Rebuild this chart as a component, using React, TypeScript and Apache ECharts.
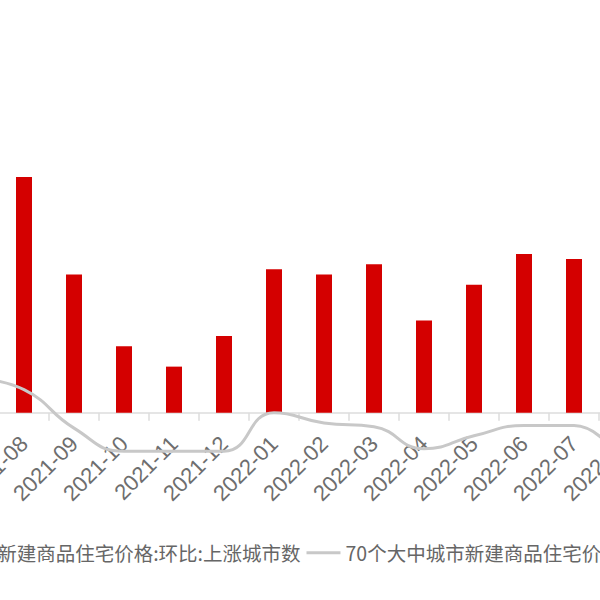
import React, { useEffect, useRef } from "react";
import * as echarts from "echarts";

const categories = [
  "2021-07", "2021-08", "2021-09", "2021-10", "2021-11", "2021-12",
  "2022-01", "2022-02", "2022-03", "2022-04", "2022-05", "2022-06",
  "2022-07", "2022-08",
];
// 上涨城市数 (bars, left axis)
const risingCities = [null, 46, 27, 13, 9, 15, 28, 27, 29, 18, 25, 31, 30, null];
// 价格环比 (line, right axis)
const priceMoM = [0.27, 0.18, -0.12, -0.3, -0.3, -0.3, 0.0, -0.08, -0.11, -0.28, -0.18, -0.1, -0.1, -0.42];

const barName = "70个大中城市新建商品住宅价格:环比:上涨城市数";
const lineName = "70个大中城市新建商品住宅价格指数:环比";

export default function App() {
  const ref = useRef<HTMLDivElement>(null);
  useEffect(() => {
    if (!ref.current) return;
    const chart = echarts.init(ref.current, null, { renderer: "svg" });
    chart.setOption({
      animation: false,
      legend: {
        left: 34,
        top: 538,
        width: 1300,
        itemWidth: 34,
        itemHeight: 3,
        itemGap: 6,
        icon: "rect",
        textStyle: { fontSize: 19.5, color: "#666", fontFamily: "Noto Sans CJK SC" },
        data: [barName, lineName],
      },
      grid: { left: 149, right: 551, top: 54, bottom: 136 },
      xAxis: {
        type: "category",
        data: categories,
        axisLine: { show: true, onZero: true, lineStyle: { color: "#dcdcdc", width: 1.5 } },
        axisTick: { show: true, length: 8, lineStyle: { color: "#dcdcdc", width: 1.5 } },
        axisLabel: {
          rotate: 45,
          margin: -24,
          fontSize: 22,
          color: "#6e6e6e",
          fontFamily: "Liberation Sans",
          interval: 0,
        },
      },
      yAxis: [
        { type: "value", min: -10, max: 70, show: false, splitLine: { show: false } },
        { type: "value", min: -0.4, max: 2.8, show: false, splitLine: { show: false } },
      ],
      series: [
        {
          name: barName,
          type: "bar",
          data: risingCities,
          barWidth: 16,
          itemStyle: { color: "#d40000" },
          yAxisIndex: 0,
        },
        {
          name: lineName,
          type: "line",
          data: priceMoM,
          yAxisIndex: 1,
          smooth: true,
          showSymbol: false,
          symbol: "none",
          lineStyle: { color: "#c8c8c8", width: 3 },
          itemStyle: { color: "#c8c8c8" },
        },
      ],
    });
    return () => chart.dispose();
  }, []);
  return (
    <div style={{ position: "fixed", left: 0, top: 0, width: 600, height: 600, overflow: "hidden", background: "#fff" }}>
      <div ref={ref} style={{ position: "absolute", left: -200, top: 0, width: 1400, height: 600 }} />
    </div>
  );
}
